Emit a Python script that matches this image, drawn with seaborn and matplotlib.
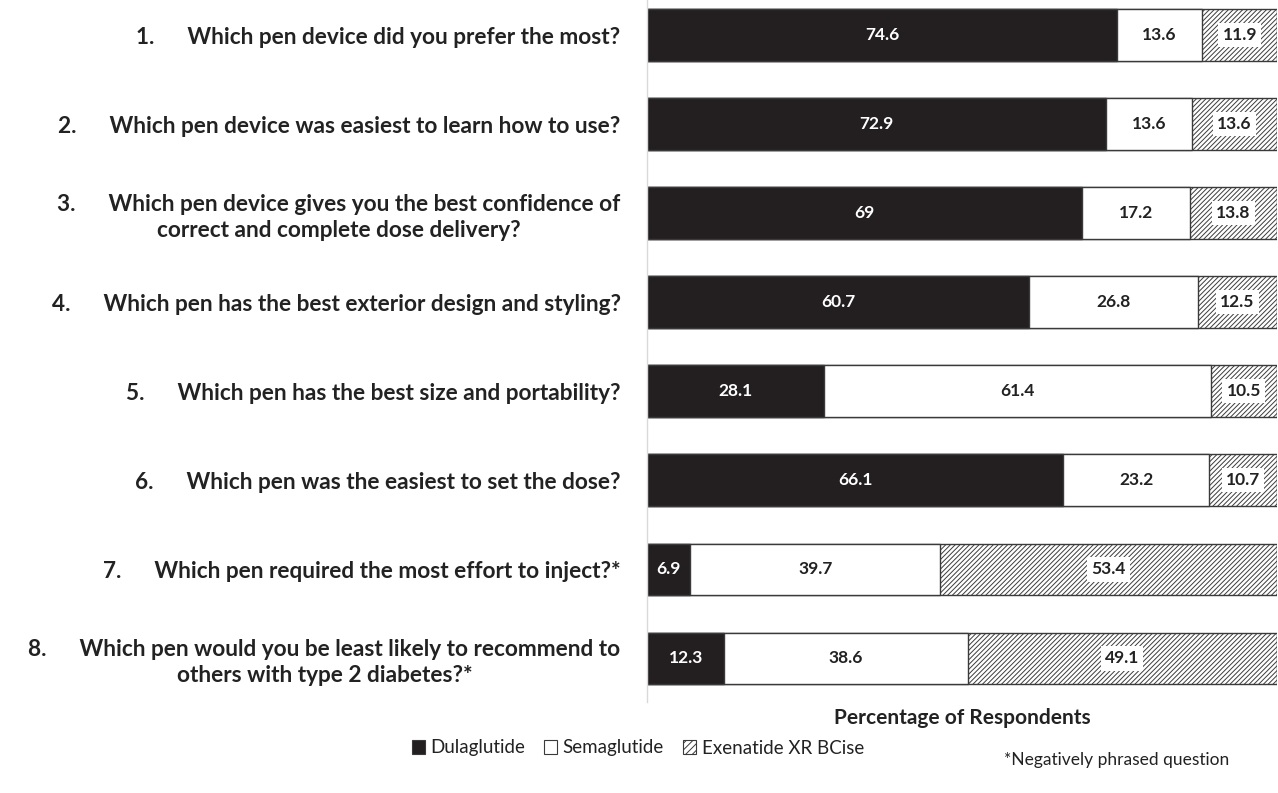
import numpy as np
import pandas as pd
import matplotlib
matplotlib.use("Agg")
import matplotlib.pyplot as plt
import seaborn as sns
from matplotlib.patches import Patch

numbers = ["1.", "2.", "3.", "4.", "5.", "6.", "7.", "8."]
questions = [
    "Which pen device did you prefer the most?",
    "Which pen device was easiest to learn how to use?",
    "Which pen device gives you the best confidence of\ncorrect and complete dose delivery?",
    "Which pen has the best exterior design and styling?",
    "Which pen has the best size and portability?",
    "Which pen was the easiest to set the dose?",
    "Which pen required the most effort to inject?*",
    "Which pen would you be least likely to recommend to\nothers with type 2 diabetes?*",
]
dulaglutide = [74.6, 72.9, 69, 60.7, 28.1, 66.1, 6.9, 12.3]
semaglutide = [13.6, 13.6, 17.2, 26.8, 61.4, 23.2, 39.7, 38.6]
exenatide = [11.9, 13.6, 13.8, 12.5, 10.5, 10.7, 53.4, 49.1]
series_names = ["Dulaglutide", "Semaglutide", "Exenatide XR BCise"]

sns.set_theme(style="white")
plt.rcParams["font.family"] = ["Lato", "DejaVu Sans"]
plt.rcParams["hatch.linewidth"] = 0.7

HATCH = "///////"
labels = [f"{n}      {q}" for n, q in zip(numbers, questions)]
df = pd.DataFrame({
    "label": labels,
    "d": dulaglutide,
    "s": semaglutide,
    "e": exenatide,
})
df["cum_ds"] = df["d"] + df["s"]
df["cum_all"] = df["cum_ds"] + df["e"]

fig = plt.figure(figsize=(12.78, 7.93), dpi=100)
ax = fig.add_axes([647 / 1278, 1 - 702 / 793, 1 - 647 / 1278 - 0.001, 702 / 793])

edge = "#3a3a3a"
w = 0.58
sns.barplot(data=df, y="label", x="cum_all", orient="h", ax=ax, color="white",
            edgecolor=edge, linewidth=1.0, width=w, saturation=1)
for p in ax.patches:
    p.set_hatch(HATCH)
sns.barplot(data=df, y="label", x="cum_ds", orient="h", ax=ax, color="white",
            edgecolor=edge, linewidth=1.0, width=w, saturation=1)
sns.barplot(data=df, y="label", x="d", orient="h", ax=ax, color="#231f20",
            edgecolor=edge, linewidth=1.0, width=w, saturation=1)
for p in ax.patches:
    p._hatch_color = matplotlib.colors.to_rgba("#3c3c3c")

ax.set_xlim(0, 100)
ax.set_ylim(7.49, -0.395)
ax.set_xticks([])
ax.set_ylabel("")
ax.set_xlabel("Percentage of Respondents", fontsize=15, fontweight="bold",
              color="#222222", labelpad=4)
ax.tick_params(axis="y", length=0, pad=19)
for t in ax.get_yticklabels():
    t.set_fontsize(16.3)
    t.set_fontweight("bold")
    t.set_color("#222222")
    t.set_multialignment("center")
    t.set_linespacing(1.3)

for s in ["top", "right", "bottom"]:
    ax.spines[s].set_visible(False)
ax.spines["left"].set_color("#d9d9d9")
ax.spines["left"].set_linewidth(1.0)

fs = 12.5
for i in range(len(df)):
    d, s, e = dulaglutide[i], semaglutide[i], exenatide[i]
    ax.text(d / 2, i, f"{d:g}", ha="center", va="center", color="white",
            fontsize=fs, fontweight="bold")
    ax.text(d + s / 2, i, f"{s:g}", ha="center", va="center", color="#222222",
            fontsize=fs, fontweight="bold")
    ax.text(d + s + e / 2, i, f"{e:g}", ha="center", va="center", color="#222222",
            fontsize=fs, fontweight="bold",
            bbox=dict(facecolor="white", edgecolor="none", pad=3))

handles = [
    Patch(facecolor="#231f20", edgecolor=edge, linewidth=0.8),
    Patch(facecolor="white", edgecolor=edge, linewidth=0.8),
    Patch(facecolor="white", edgecolor=edge, linewidth=0.8, hatch="/////"),
]
fig.legend(handles, series_names, loc="center", bbox_to_anchor=(0.499, 1 - 748 / 793),
           ncol=3, frameon=False, handlelength=0.7, handleheight=0.7,
           handletextpad=0.3, columnspacing=1.0, fontsize=13.5,
           labelcolor="#222222")
fig.text(1117 / 1278, 1 - 760 / 793, "*Negatively phrased question", ha="center",
         va="center", fontsize=12.5, color="#222222")

fig.savefig("out.png", dpi=100)
